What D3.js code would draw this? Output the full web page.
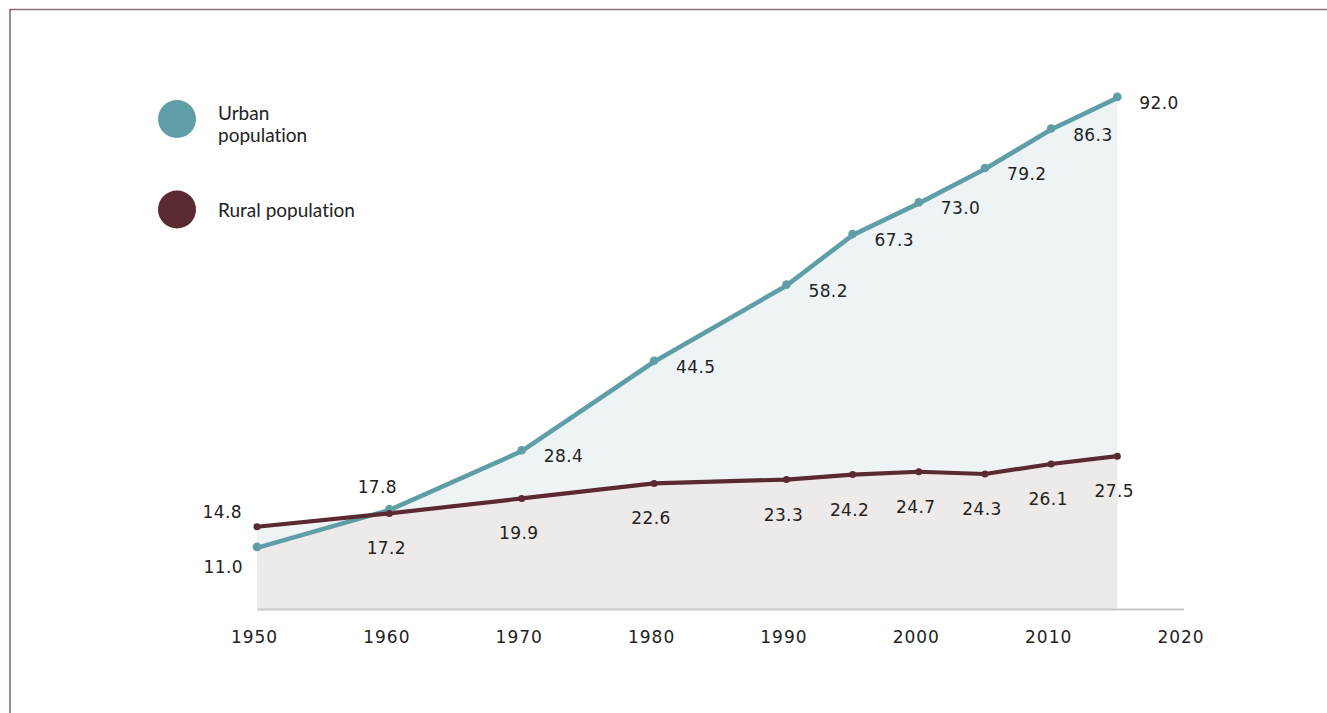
<!DOCTYPE html>
<html><head><meta charset="utf-8">
<script src="https://cdn.jsdelivr.net/npm/d3@7"></script>
<style>
html,body{margin:0;padding:0;background:#fff;}
svg{display:block;}
text{font-variant-ligatures:none;}
</style></head>
<body>
<svg id="c" width="1327" height="713"></svg>
<script>
const years = [1950,1960,1970,1980,1990,1995,2000,2005,2010,2015];
const urban = [11.0,17.8,28.4,44.5,58.2,67.3,73.0,79.2,86.3,92.0];
const rural = [14.8,17.2,19.9,22.6,23.3,24.2,24.7,24.3,26.1,27.5];
const tickYears = [1950,1960,1970,1980,1990,2000,2010,2020];
const seriesNames = ["Urban population","Rural population"];

const svg = d3.select("#c");
const cUrban = "#5f9ea6", cRural = "#5b2932";
const fUrban = "#eef4f6", fRural = "#eeeae9";
const txt = "#222";
const font = "'DejaVu Sans', sans-serif";

// frame
svg.append("path").attr("d","M10,713 L10,9.5 L1327,9.5")
  .attr("fill","none").attr("stroke","#8c6d74").attr("stroke-width",1.6);

const x = d3.scaleLinear().domain([1950,2020]).range([257,1183.5]);
const y = d3.scaleLinear().domain([0,100]).range([609,53.4]);

const data = years.map((yr,i)=>({yr,u:urban[i],r:rural[i]}));

// areas
svg.append("path").datum(data)
  .attr("d", d3.area().x(d=>x(d.yr)).y0(y(0)).y1(d=>y(Math.max(d.u,d.r))))
  .attr("fill", fUrban);
svg.append("path").datum(data)
  .attr("d", d3.area().x(d=>x(d.yr)).y0(y(0)).y1(d=>y(Math.min(d.u,d.r))))
  .attr("fill", fRural);

// axis
const axis = d3.axisBottom(x).tickValues(tickYears).tickFormat(d3.format("d")).tickSize(0).tickPadding(0);
const gAx = svg.append("g").attr("transform",`translate(0,${y(0)})`).call(axis);
gAx.select(".domain").attr("stroke","#c8c8c8").attr("stroke-width",2.2);
gAx.selectAll("text").attr("font-family",font).attr("font-size",17)
  .attr("letter-spacing","1px").attr("fill",txt)
  .attr("dy",0).attr("y",34).attr("x",-3);

// lines
svg.append("path").datum(data)
  .attr("d", d3.line().x(d=>x(d.yr)).y(d=>y(d.u)))
  .attr("fill","none").attr("stroke",cUrban).attr("stroke-width",4.6).attr("stroke-linejoin","round");
svg.append("path").datum(data)
  .attr("d", d3.line().x(d=>x(d.yr)).y(d=>y(d.r)))
  .attr("fill","none").attr("stroke",cRural).attr("stroke-width",4.2).attr("stroke-linejoin","round");

// markers
svg.selectAll(".mu").data(data).enter().append("circle")
  .attr("cx",d=>x(d.yr)).attr("cy",d=>y(d.u)-1).attr("r",4.3).attr("fill",cUrban);
svg.selectAll(".mr").data(data).enter().append("circle")
  .attr("cx",d=>x(d.yr)).attr("cy",d=>y(d.r)).attr("r",3.5).attr("fill",cRural);

// value labels
const fmt = d3.format(".1f");
svg.selectAll(".lu").data(data).enter().append("text")
  .attr("font-family",font).attr("font-size",17).attr("letter-spacing","0.4px").attr("fill",txt)
  .attr("x",(d,i)=> i===0 ? x(d.yr)-14 : i===1 ? x(d.yr)-12 : x(d.yr)+22)
  .attr("y",(d,i)=> i===0 ? y(d.u)+25 : i===1 ? y(d.u)-17 : y(d.u)+11)
  .attr("text-anchor",(d,i)=> i===0 ? "end" : i===1 ? "middle" : "start")
  .text(d=>fmt(d.u));
svg.selectAll(".lr").data(data).enter().append("text")
  .attr("font-family",font).attr("font-size",17).attr("letter-spacing","0.4px").attr("fill",txt)
  .attr("x",(d,i)=> i===0 ? x(d.yr)-15 : x(d.yr)-3)
  .attr("y",(d,i)=> i===0 ? y(d.r)-9 : y(d.r)+41)
  .attr("text-anchor",(d,i)=> i===0 ? "end" : "middle")
  .text(d=>fmt(d.r));

// legend
const lg = svg.append("g").attr("font-family","Lato, 'Open Sans', sans-serif").attr("font-size",19).attr("fill",txt);
lg.append("circle").attr("cx",177).attr("cy",119).attr("r",19).attr("fill",cUrban);
lg.append("circle").attr("cx",177).attr("cy",209.5).attr("r",19).attr("fill",cRural);
const t1 = lg.append("text").attr("x",218).attr("y",120);
t1.append("tspan").attr("x",218).text(seriesNames[0].split(" ")[0]);
t1.append("tspan").attr("x",218).attr("dy",22).text(seriesNames[0].split(" ")[1]);
lg.append("text").attr("x",218).attr("y",217).text(seriesNames[1]);
</script>
</body></html>
